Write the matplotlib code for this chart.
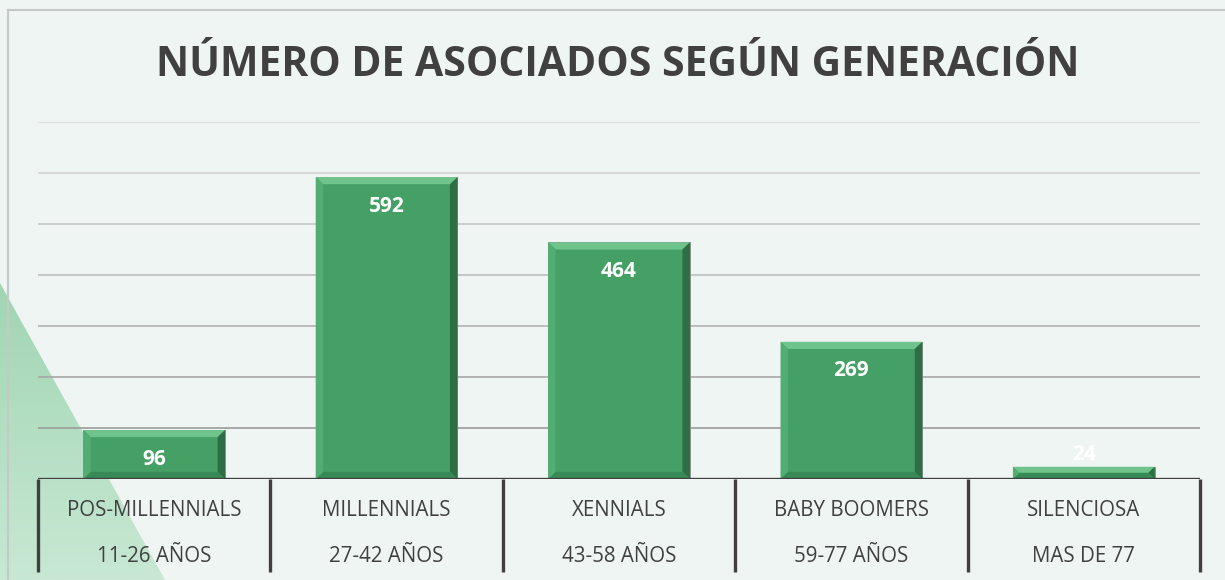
import matplotlib.pyplot as plt
import numpy as np
from matplotlib.patches import Polygon
from matplotlib.colors import LinearSegmentedColormap
from matplotlib.transforms import blended_transform_factory

plt.rcParams['font.family'] = ['Open Sans', 'DejaVu Sans']

generations = ["POS-MILLENNIALS", "MILLENNIALS", "XENNIALS", "BABY BOOMERS", "SILENCIOSA"]
age_ranges = ["11-26 AÑOS", "27-42 AÑOS", "43-58 AÑOS", "59-77 AÑOS", "MAS DE 77"]
members = [96, 592, 464, 269, 24]

W, H = 1225, 580
fig = plt.figure(figsize=(W / 100, H / 100), dpi=100)
fig.patch.set_facecolor("#eff5f3")

# background decoration in pixel coords (y down)
bg = fig.add_axes([0, 0, 1, 1])
bg.set_xlim(0, W)
bg.set_ylim(H, 0)
bg.axis("off")
grad = np.linspace(0, 1, 256).reshape(-1, 1)
img = bg.imshow(grad, extent=[0, 170, 283, H], cmap=LinearSegmentedColormap.from_list(
    "g", ["#c8e8d3", "#a0d5b3"]), aspect="auto", zorder=1)
tri = Polygon([[0, 283], [0, H], [165, H]], closed=True, transform=bg.transData)
img.set_clip_path(tri)
bg.plot([8, 8], [10, H], color="#c4c8c6", lw=1.5, zorder=2)
bg.plot([8, W], [10, 10], color="#c4c8c6", lw=1.5, zorder=2)

ax = fig.add_axes([38 / W, (H - 479) / H, (1200 - 38) / W, (479 - 122) / H])
ax.set_facecolor("none")
ax.set_xlim(-0.5, len(members) - 0.5)
ax.set_ylim(0, 700)
for s in ax.spines.values():
    s.set_visible(False)
ax.set_xticks([])
ax.set_yticks([])

grid_vals = np.arange(100, 701, 100)
grid_cols = LinearSegmentedColormap.from_list("gc", ["#9c9c9c", "#dcdcdc"])
for i, g in enumerate(grid_vals):
    ax.axhline(g, color=grid_cols(i / (len(grid_vals) - 1)), lw=1.2, zorder=1)

x = np.arange(len(members))
bw = 0.61
ax.bar(x, members, width=bw, color="#44a064", edgecolor="#8a8a8a", linewidth=0.6, zorder=3)

# bevel
bx = 0.032
by = 14
for xi, v in zip(x, members):
    l, r = xi - bw / 2, xi + bw / 2
    b = min(by, v / 2)
    dx = min(bx, bx * v / (2 * by))
    ax.add_patch(Polygon([[l, v], [r, v], [r - dx, v - b], [l + dx, v - b]], color="#6fc48c", zorder=4, lw=0))
    ax.add_patch(Polygon([[r, v], [r, 0], [r - dx, b], [r - dx, v - b]], color="#2d6e45", zorder=4, lw=0))
    ax.add_patch(Polygon([[l, 0], [r, 0], [r - dx, b], [l + dx, b]], color="#378a55", zorder=4, lw=0))
    ax.add_patch(Polygon([[l, v], [l, 0], [l + dx, b], [l + dx, v - b]], color="#52ad72", zorder=4, lw=0))

for xi, v in zip(x, members):
    off = -21 if v > 60 else 9
    ax.annotate(str(v), (xi, v), xytext=(0, off), textcoords="offset points",
                ha="center", va="center", color="white", fontsize=15, fontweight="bold", zorder=5)

ax.axhline(0, color="#404040", lw=2.4, zorder=6)

tr = blended_transform_factory(ax.transData, bg.transData)
for xs in np.arange(-0.5, len(members), 1.0):
    bg.plot([xs, xs], [479, 572], color="#404040", lw=2.4, transform=tr, zorder=6, solid_capstyle="butt")
for xi, g, a in zip(x, generations, age_ranges):
    bg.text(xi, 510, g, transform=tr, ha="center", va="center", fontsize=14.8, color="#404040")
    bg.text(xi, 557, a, transform=tr, ha="center", va="center", fontsize=14.8, color="#404040")

fig.text(618 / W, 1 - 65 / H, "NÚMERO DE ASOCIADOS SEGÚN GENERACIÓN", ha="center", va="center",
         fontsize=29.4, fontweight="bold", color="#404040")

fig.savefig("out.png", dpi=100, facecolor=fig.get_facecolor())
